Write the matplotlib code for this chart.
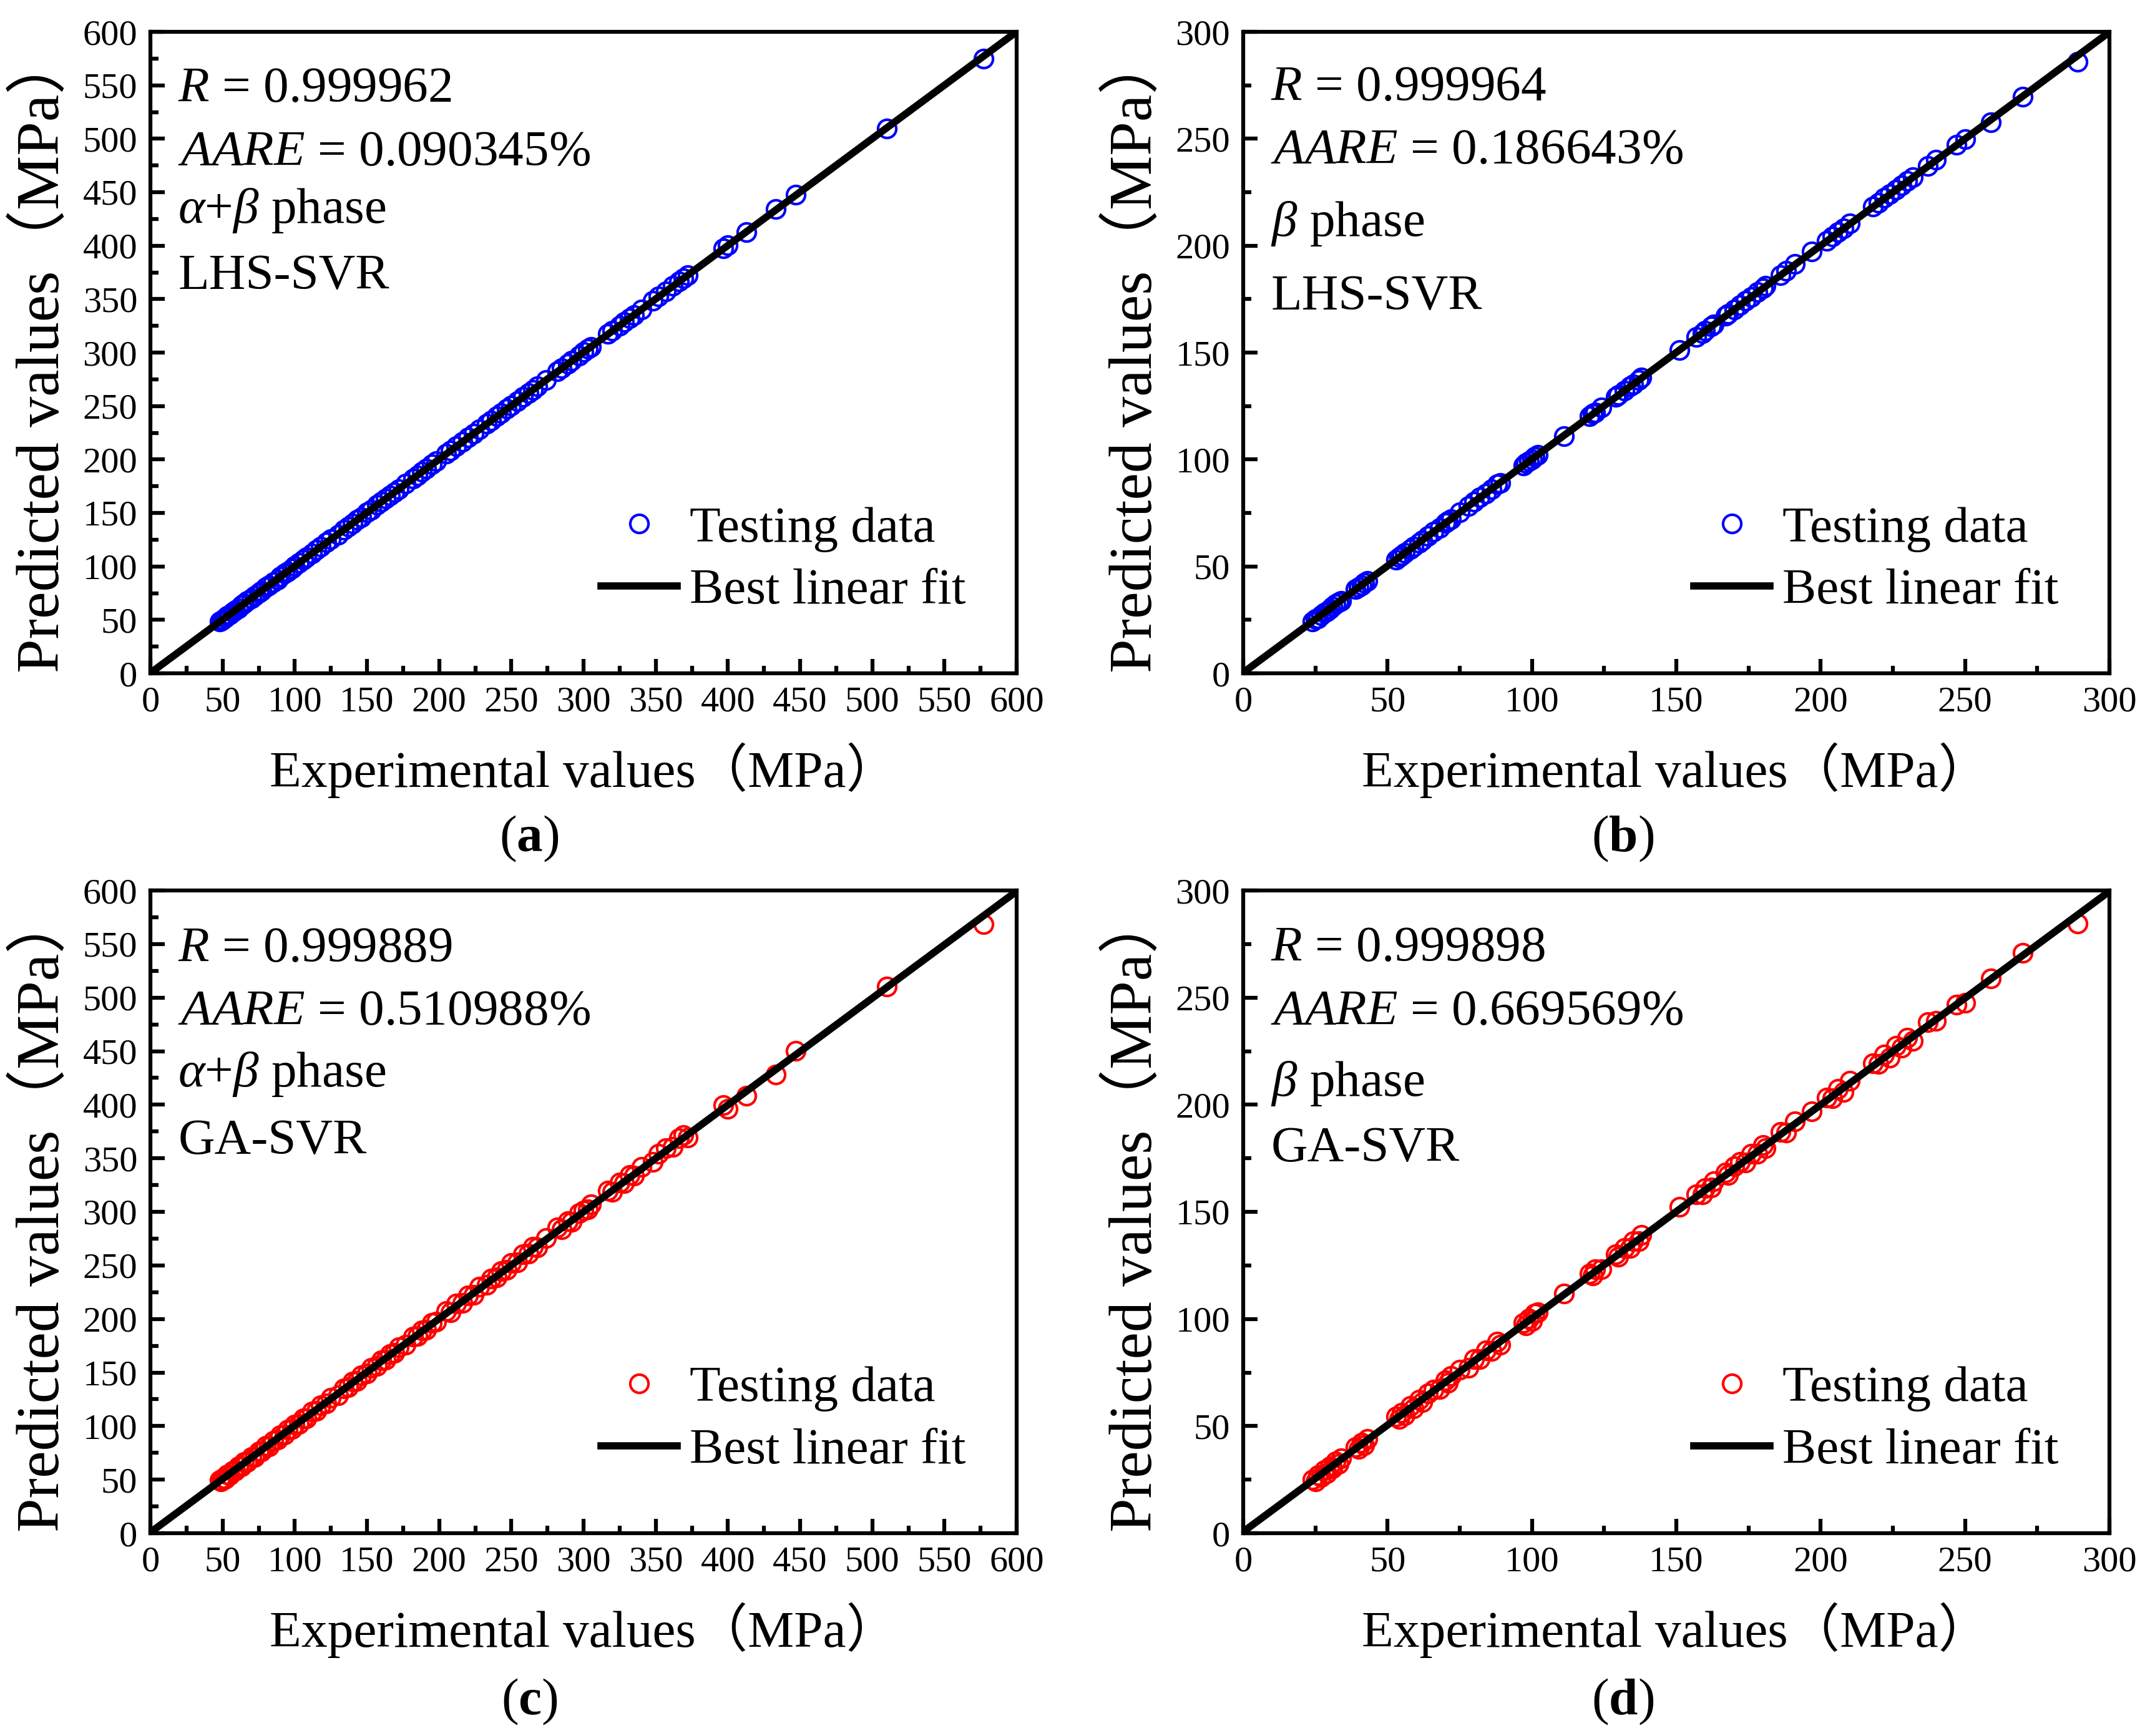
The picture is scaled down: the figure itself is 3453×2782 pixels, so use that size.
import numpy as np
import matplotlib
matplotlib.use("Agg")
import matplotlib.pyplot as plt
from matplotlib.ticker import MultipleLocator

# alpha+beta phase: experimental values and predictions (MPa)
ab_exp = [48, 49, 50, 52, 53, 55, 57, 59, 61, 63,
          65, 67, 70, 72, 75, 77, 80, 82, 85, 88,
          90, 93, 95, 98, 100, 103, 106, 108, 112, 115,
          118, 122, 125, 130, 134, 137, 140, 143, 146, 150,
          153, 157, 160, 163, 166, 169, 172, 177, 182, 185,
          188, 191, 195, 198, 205, 208, 212, 216, 220, 224,
          228, 233, 236, 240, 243, 247, 250, 254, 258, 262,
          265, 268, 274, 282, 285, 289, 292, 297, 300, 303,
          305, 317, 320, 325, 328, 332, 335, 340, 348, 352,
          357, 362, 366, 369, 372, 397, 400, 413, 433, 447,
          510, 577]

ab_lhs = [48.3, 49.2, 50.4, 51.8, 53.5, 54.8, 57.3, 59.2, 60.8, 63.4,
          65.2, 67.5, 69.8, 72.3, 75.2, 76.8, 80.3, 82.1, 85.4, 87.8,
          90.3, 93.2, 95.4, 97.8, 100.5, 103.2, 106.3, 108.4, 111.8, 115.3,
          118.2, 122.4, 125.3, 129.8, 134.2, 137.4, 140.3, 143.5, 146.2, 150.4,
          153.2, 157.3, 160.5, 163.2, 166.4, 169.3, 172.2, 177.4, 182.3, 185.2,
          188.4, 191.2, 195.3, 198.4, 205.3, 208.4, 212.2, 216.3, 220.4, 224.2,
          228.3, 233.4, 236.2, 240.3, 243.2, 247.4, 250.3, 254.2, 258.4, 262.3,
          265.2, 268.4, 274.3, 282.4, 285.2, 289.3, 292.4, 297.2, 300.3, 303.5,
          305.2, 317.4, 320.3, 325.2, 328.4, 332.3, 335.2, 340.3, 348.2, 352.4,
          357.3, 362.2, 366.4, 369.3, 372.2, 397.5, 400.2, 412.6, 434.2, 447.8,
          509.5, 575.0]

ab_ga = [49.5, 48.2, 51.3, 50.8, 54.6, 53.9, 58.2, 58.1, 62.3, 62.2,
         66.4, 66.3, 71.2, 71.1, 76.3, 76.2, 81.4, 81.0, 86.3, 87.1,
         91.4, 92.1, 96.5, 97.0, 101.3, 102.1, 107.2, 107.3, 113.4, 114.2,
         119.5, 121.2, 126.3, 128.9, 135.4, 136.1, 141.5, 142.2, 147.6, 149.3,
         154.4, 156.2, 161.5, 162.1, 167.3, 168.2, 173.4, 176.1, 183.5, 184.0,
         189.6, 189.8, 196.4, 197.2, 207.3, 206.2, 214.3, 215.0, 222.1, 222.8,
         230.2, 231.8, 237.4, 238.9, 244.6, 245.8, 252.1, 252.9, 260.4, 261.0,
         267.3, 266.8, 275.6, 285.3, 283.9, 291.2, 290.6, 299.1, 301.4, 302.2,
         306.8, 319.6, 318.4, 327.3, 326.9, 334.2, 333.8, 342.1, 346.5, 354.2,
         359.4, 360.6, 368.5, 371.8, 369.2, 399.5, 396.3, 408.5, 428.2, 450.3,
         510.4, 568.6]

# beta phase
bt_exp = [24, 25, 26, 27, 28, 29, 30, 31, 32, 33,
          34, 39, 40, 41, 42, 43, 53, 54, 55, 56,
          58, 59, 61, 62, 64, 66, 68, 70, 71, 72,
          75, 78, 80, 82, 84, 86, 88, 89, 97, 98,
          99, 100, 101, 102, 111, 120, 121, 122, 124, 129,
          130, 132, 134, 135, 137, 138, 151, 157, 159, 160,
          162, 163, 167, 168, 170, 172, 174, 176, 178, 180,
          181, 186, 188, 191, 197, 202, 204, 206, 208, 210,
          218, 220, 222, 224, 226, 228, 230, 232, 237, 240,
          247, 250, 259, 270, 289]

bt_lhs = [24.2, 25.3, 25.8, 27.2, 28.3, 28.8, 30.2, 31.1, 32.3, 33.2,
          33.8, 39.3, 40.2, 41.1, 42.3, 43.2, 53.2, 54.3, 55.1, 56.2,
          58.2, 59.3, 61.1, 62.2, 64.3, 66.2, 68.1, 70.2, 71.3, 72.1,
          75.2, 78.1, 80.2, 82.3, 84.1, 86.2, 88.3, 89.1, 97.2, 98.3,
          99.1, 100.2, 101.3, 102.1, 110.8, 120.2, 121.3, 122.1, 124.2, 129.3,
          130.2, 132.1, 134.3, 135.2, 137.1, 138.2, 151.3, 157.2, 159.1, 160.3,
          162.2, 163.1, 167.3, 168.2, 170.1, 172.3, 174.2, 176.1, 178.3, 180.2,
          181.1, 186.2, 188.1, 191.3, 197.2, 202.1, 204.3, 206.2, 208.1, 210.3,
          218.2, 220.1, 222.3, 224.2, 226.1, 228.3, 230.2, 232.1, 237.3, 240.2,
          247.1, 249.8, 257.8, 269.6, 286.0]

bt_ga = [25.1, 24.3, 27.0, 26.2, 29.3, 28.1, 31.2, 30.3, 33.5, 32.2,
         35.0, 40.3, 39.4, 42.3, 41.2, 44.1, 54.5, 53.2, 56.3, 55.1,
         59.4, 58.2, 62.3, 61.1, 65.2, 67.1, 67.3, 71.4, 70.2, 73.3,
         76.4, 77.1, 81.3, 81.2, 85.3, 85.1, 89.4, 88.0, 98.3, 97.1,
         100.2, 99.1, 102.4, 103.1, 111.9, 121.3, 120.2, 123.2, 123.1, 130.2,
         129.1, 133.2, 133.1, 136.3, 136.2, 139.1, 152.4, 158.3, 158.1, 161.2,
         161.3, 164.2, 168.4, 167.1, 171.3, 173.2, 173.1, 177.2, 177.1, 181.3,
         179.8, 187.3, 186.9, 192.1, 196.8, 203.3, 203.0, 207.4, 205.9, 211.2,
         219.3, 218.9, 223.4, 221.8, 227.6, 226.7, 231.2, 229.8, 238.4, 239.1,
         246.6, 247.5, 258.9, 270.8, 284.7]

r_values = ["0.999962", "0.999964", "0.999889", "0.999898"]
aare_values = ["0.090345%", "0.186643%", "0.510988%", "0.669569%"]
phases = [r"$\alpha$+$\beta$ phase", r"$\beta$ phase", r"$\alpha$+$\beta$ phase", r"$\beta$ phase"]
models = ["LHS-SVR", "LHS-SVR", "GA-SVR", "GA-SVR"]
panel_tags = ["a", "b", "c", "d"]

plt.rcParams["font.family"] = ["Liberation Serif", "Noto Sans CJK SC"]
plt.rcParams["mathtext.fontset"] = "custom"
plt.rcParams["mathtext.rm"] = "Liberation Serif"
plt.rcParams["mathtext.it"] = "Liberation Serif:italic"
plt.rcParams["mathtext.bf"] = "Liberation Serif:bold"

W = 3453.0
H = 2782.0
fig = plt.figure(figsize=(W / 300, H / 300), dpi=300)

# axes boxes in pixels: left, top, right, bottom
boxes = [(241, 51, 1629, 1079), (1992, 51, 3380, 1079),
         (241, 1427, 1629, 2457), (1992, 1427, 3380, 2457)]
text_y = [(0.891, 0.792, 0.702, 0.599), (0.893, 0.795, 0.682, 0.567),
          (0.889, 0.791, 0.695, 0.590), (0.890, 0.791, 0.681, 0.579)]

datasets = [(ab_exp, ab_lhs, "#0000FF", 600), (bt_exp, bt_lhs, "#0000FF", 300),
            (ab_exp, ab_ga, "#FF0000", 600), (bt_exp, bt_ga, "#FF0000", 300)]

for i in range(4):
    l, t, r, b = boxes[i]
    ax = fig.add_axes([l / W, 1 - b / H, (r - l) / W, (b - t) / H])
    xs, ys, col, vmax = datasets[i]
    xs = np.array(xs, dtype=float)
    ys = np.array(ys, dtype=float)

    ax.plot(xs, ys, "o", ls="none", mfc="none", mec=col, ms=7, mew=1.0,
            label="Testing data", zorder=2)
    k, c0 = np.polyfit(xs, ys, 1)
    xf = np.array([0.0, vmax])
    ax.plot(xf, k * xf + c0, "-", color="black", lw=2.8, label="Best linear fit", zorder=3)

    ax.set_xlim(0, vmax)
    ax.set_ylim(0, vmax)
    step = 50
    ax.set_xticks(np.arange(0, vmax + 1, step))
    ax.set_yticks(np.arange(0, vmax + 1, step))
    ax.xaxis.set_minor_locator(MultipleLocator(25))
    ax.yaxis.set_minor_locator(MultipleLocator(25))
    ax.tick_params(which="both", direction="in", top=False, right=False,
                   width=1.5, labelsize=14, pad=5)
    ax.tick_params(which="major", length=5.5)
    ax.tick_params(which="minor", length=3)
    for s in ax.spines.values():
        s.set_linewidth(1.5)

    ax.set_xlabel("Experimental values（MPa）", fontsize=20, labelpad=9)
    ax.set_ylabel("Predicted values（MPa）", fontsize=23.5, labelpad=4)

    ty = text_y[i]
    ax.text(0.032, ty[0], r"$R$ = " + r_values[i], transform=ax.transAxes,
            fontsize=19.5, va="baseline")
    ax.text(0.032, ty[1], r"$AARE$ = " + aare_values[i], transform=ax.transAxes,
            fontsize=19.5, va="baseline")
    ax.text(0.032, ty[2], phases[i], transform=ax.transAxes,
            fontsize=19.5, va="baseline")
    ax.text(0.032, ty[3], models[i], transform=ax.transAxes,
            fontsize=19.5, va="baseline")

    ax.legend(loc="lower left", bbox_to_anchor=(0.52, 0.092), frameon=False,
              borderpad=0, borderaxespad=0, handlelength=1.5, handletextpad=0.25,
              labelspacing=0.32, numpoints=1, fontsize=19.5)

    tag_x = 848 if l < 1000 else 2600
    tag_y = 1344 if t < 1000 else 2727
    fig.text(tag_x / W, 1 - tag_y / H, "($\\mathbf{" + panel_tags[i] + "}$)",
             fontsize=20, ha="center", va="center")

fig.savefig("out.png", dpi=300)
